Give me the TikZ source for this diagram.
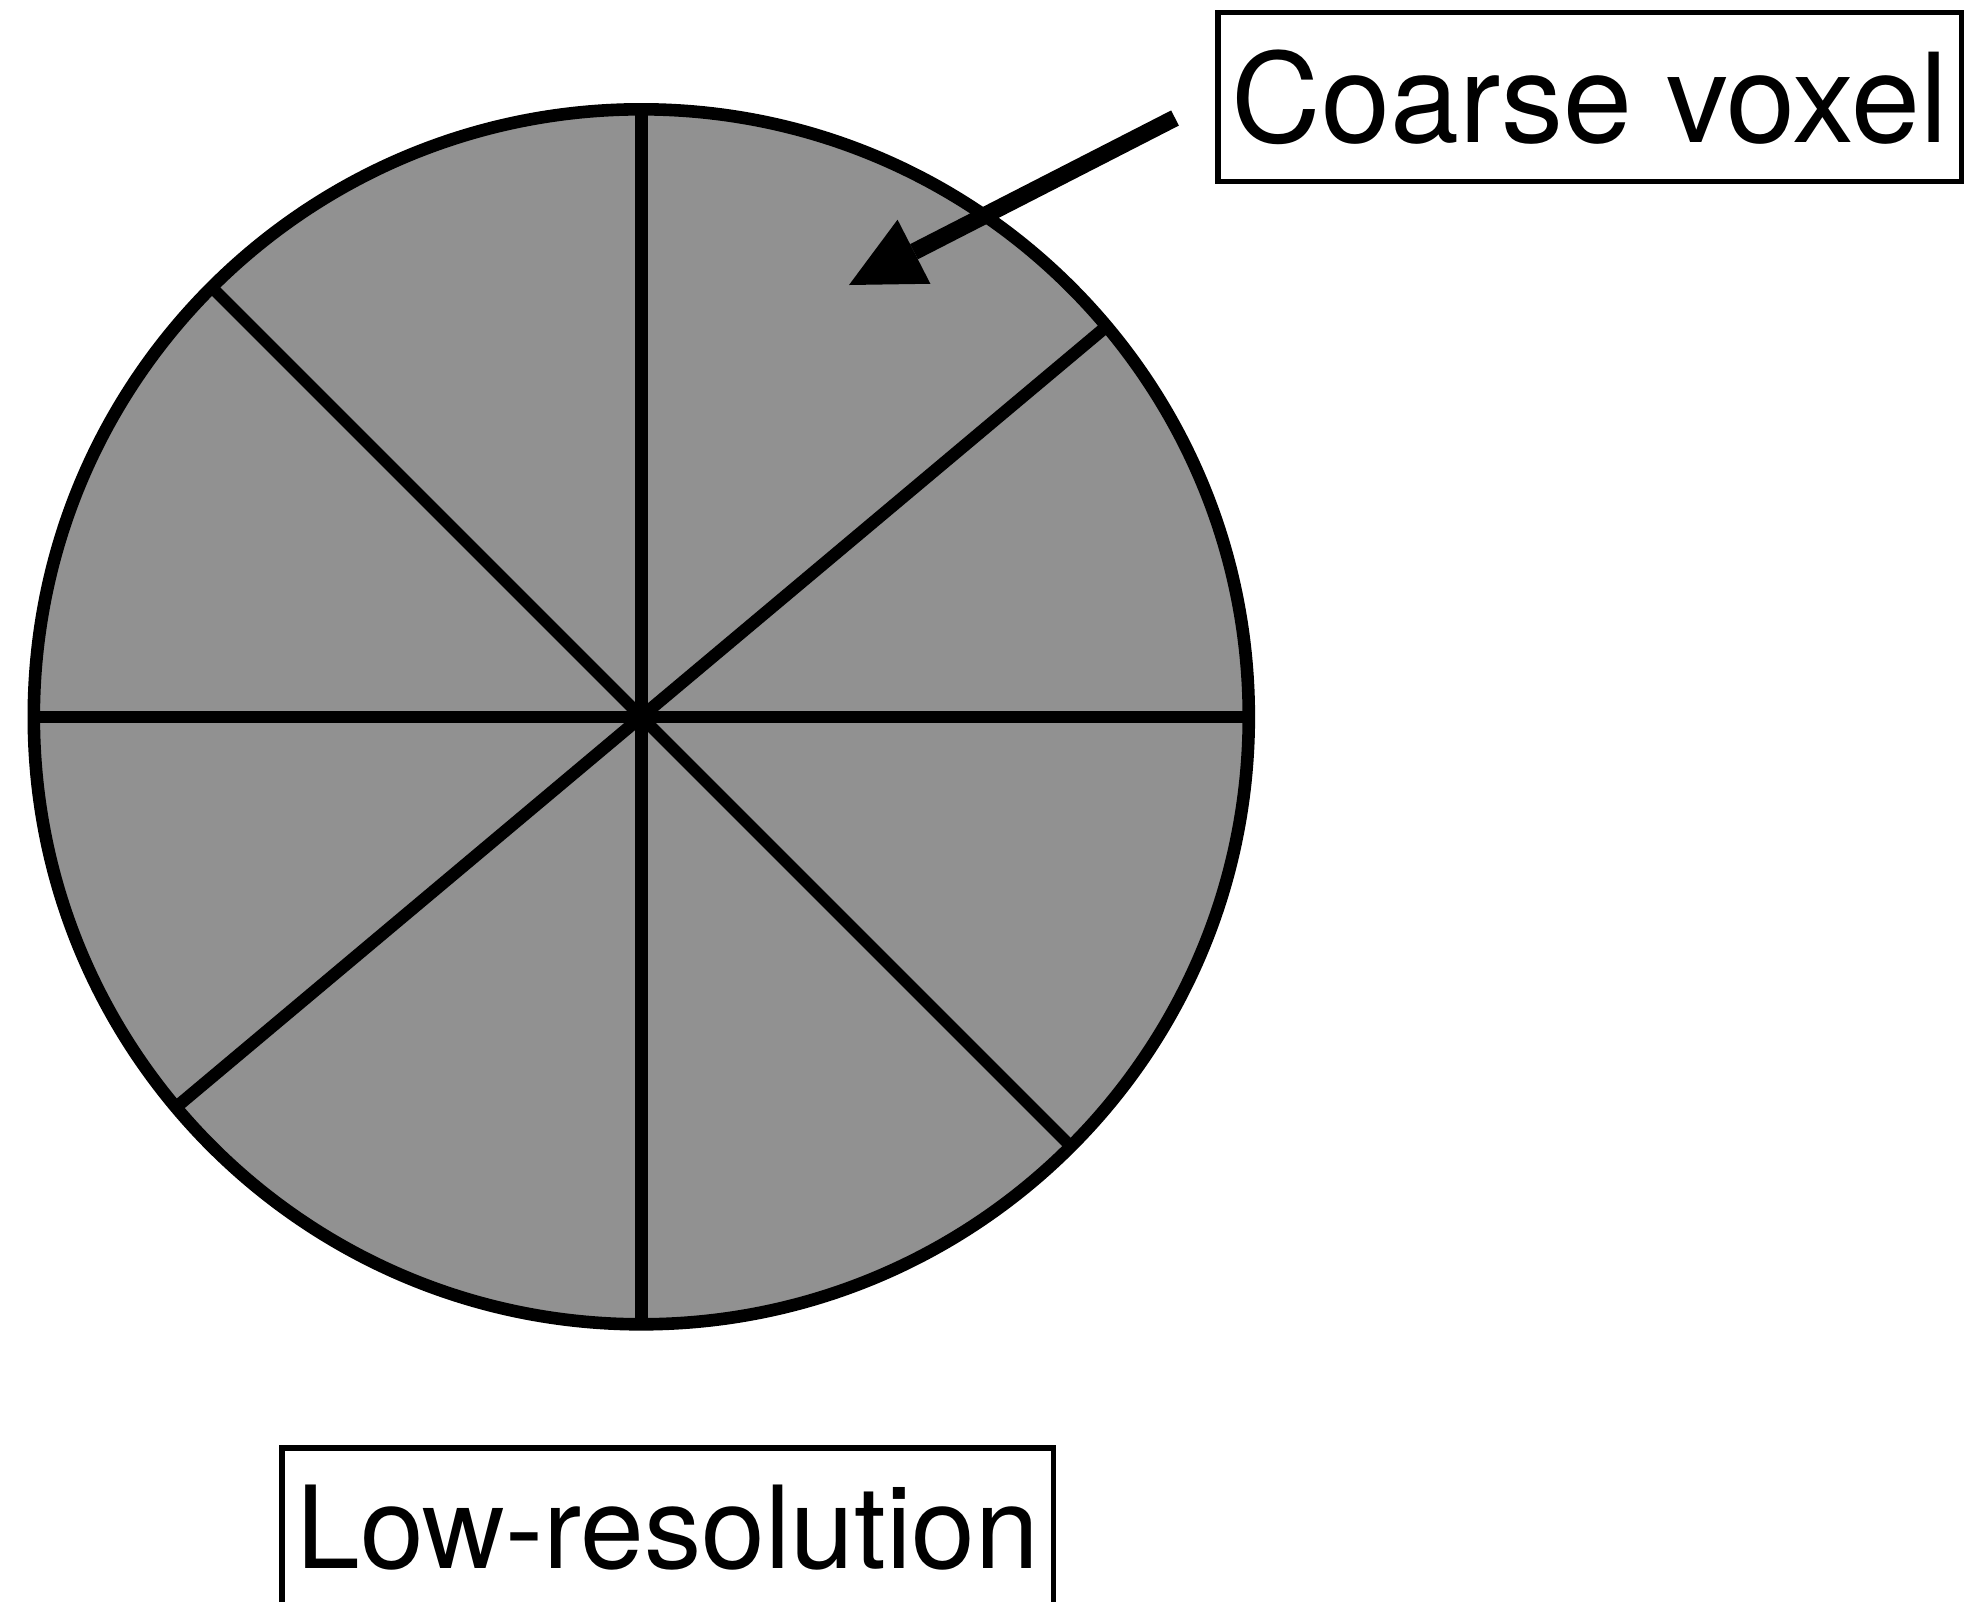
\documentclass[tikz,border=0pt]{standalone}
\usepackage{fontspec}
\setmainfont{TeX Gyre Heros}
\usetikzlibrary{arrows.meta}
\definecolor{sectorgray}{RGB}{145,145,145}
\tikzset{
  disk/.style={circle, draw=black, fill=sectorgray, line width=6.3pt,
               minimum size=607.5pt, inner sep=0pt, outer sep=0pt},
  spoke/.style={draw=black, line width=6.2pt},
  labelbox/.style={draw=black, line width=2.65pt, inner sep=0pt, outer sep=0pt},
  pointer/.style={draw=black, line width=8.5pt,
                  -{Triangle[length=36.5pt, width=36pt, line width=0pt]}},
}
\begin{document}
\begin{tikzpicture}[x=0.5pt, y=-0.5pt]
  \useasboundingbox (0,0) rectangle (1983,1602);

  % the disc, split into eight sectors
  \node[disk] (disk) at (641.3,716.8) {};
  \draw[spoke, line width=6pt]   (disk.180)   -- (disk.0);
  \draw[spoke, line width=6.6pt] (disk.90)    -- (disk.270);
  \draw[spoke, line width=5.9pt] (disk.135)   -- (disk.-45);
  \draw[spoke, line width=6.2pt] (disk.40.1)  -- (disk.220.1);

  % labels
  \node[labelbox, minimum width=371.7pt, minimum height=84.35pt,
        font=\fontsize{62}{72}\selectfont] (coarse) at (1589.7,97) {Coarse voxel};
  \node[labelbox, minimum width=385.7pt, minimum height=79.5pt,
        font=\fontsize{57.3}{68}\selectfont] (lowres) at (667.7,1527.5) {Low-resolution};

  % pointer into one sector
  \coordinate (tail) at (1175,118);
  \coordinate (tip) at (849,285);
  \draw[pointer] (tail) -- (tip);
\end{tikzpicture}
\end{document}
